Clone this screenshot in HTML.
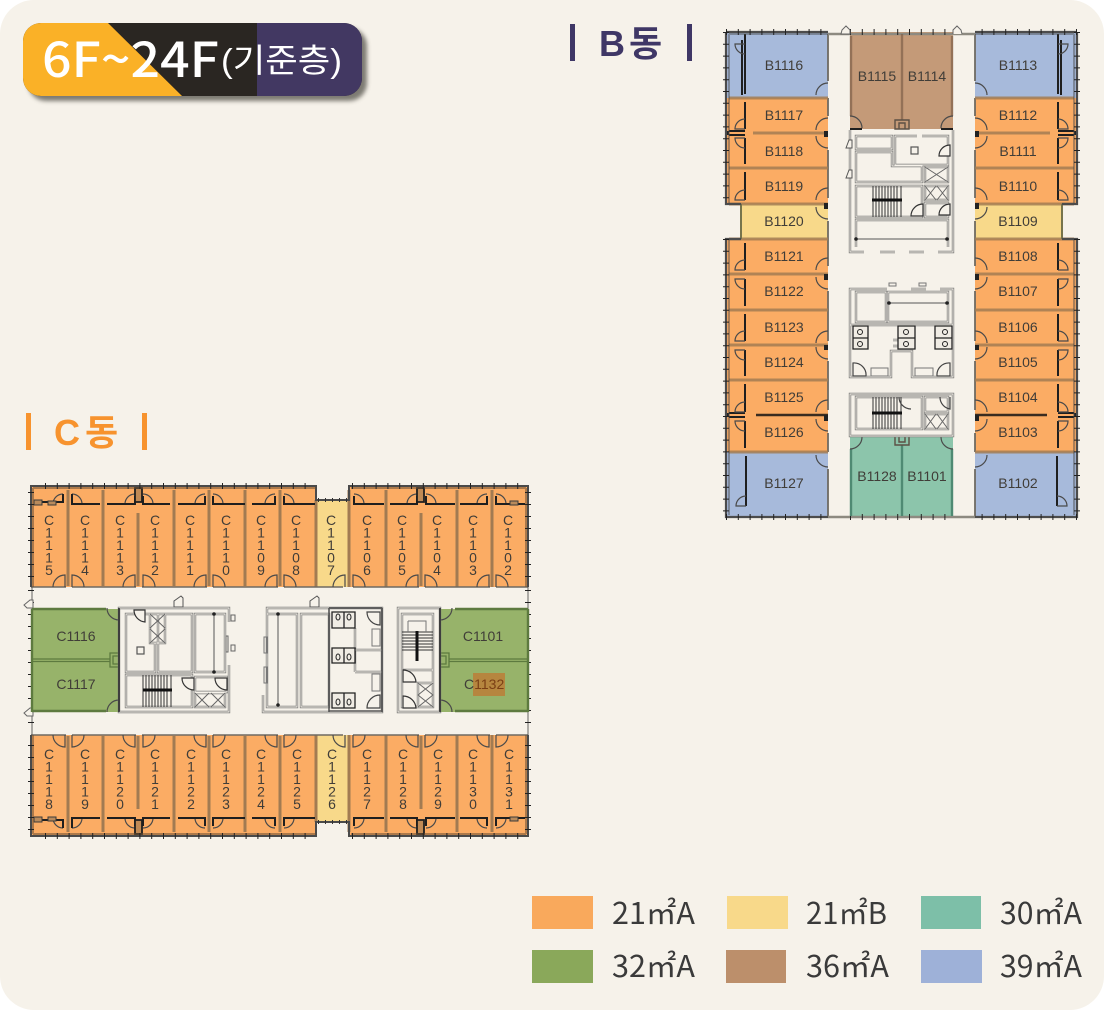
<!DOCTYPE html>
<html lang="ko"><head><meta charset="utf-8"><title>6F~24F</title>
<style>
html,body{margin:0;padding:0;background:#fff;width:1104px;height:1010px;overflow:hidden}
svg{display:block;font-family:"Liberation Sans","Noto Sans CJK KR",sans-serif}
.l{font-size:14px;fill:#403d38;text-anchor:middle}
.lg{font-size:30px;fill:#3a3a3a;font-family:"Noto Sans CJK KR","Liberation Sans",sans-serif}
.or{fill:#fbac64}.ye{fill:#f8d98a}.te{fill:#8cc5ab}.gr{fill:#97b36a}.br{fill:#c49a78}.bl{fill:#a7badb}
.d{fill:none;stroke:#4a4a4a;stroke-width:1.2}
.k{fill:none;stroke:#1f1f1f;stroke-width:2}
.m{fill:none;stroke:#a27b52;stroke-width:3}
.g{fill:none;stroke:#6f6a62;stroke-width:1.8}
.w3{fill:none;stroke:#7a7a78;stroke-width:2.4}
.w1{fill:none;stroke:#f6f2ea;stroke-width:.9}
</style></head><body>
<svg width="1104" height="1010" viewBox="0 0 1104 1010" xmlns="http://www.w3.org/2000/svg">
<defs>
<filter id="sh" x="-5%" y="-20%" width="110%" height="140%"><feGaussianBlur stdDeviation="2"/></filter>
<!-- B wing linework -->
<g id="bw">
<path class="g" d="M828 34V81M828 98V116M828 150V198M828 221V266M828 291V341M828 361V410M828 433V452M828 469V517"/>
<path class="m" d="M729 98H828M753 133H828M729 168H828M729 204H828M729 239H828M729 274H828M729 310H828M729 345H828M729 380H828M729 452H828" stroke-opacity=".85"/>
<path d="M756 415H828" fill="none" stroke="#3a2c20" stroke-width="2.5"/>
<path class="k" d="M745 34V94M742 40V95M745 102V129M745 138V164M745 172V200M745 243V270M745 279V306M745 314V341M745 350V376M745 384V412M745 421V448M746 456V506"/>
<path class="k" d="M729 131H745M729 135H745M729 413H745M729 417H745M728 131V135M728 413V417"/>
<path d="M741 204V239" fill="none" stroke="#77744c" stroke-width="2"/>
<path d="M726 32V204H741M741 239H726V517H828" fill="none" stroke="#4c4c4c" stroke-width="2.2"/>
<path d="M726 32H828" fill="none" stroke="#4c4c4c" stroke-width="2.2"/>
<path d="M729 34H828M729 34V204M729 239V515" fill="none" stroke="#4a4a4a" stroke-width="2" stroke-opacity=".45"/>
<path d="M726 32V204M726 239V517" fill="none" stroke="#222" stroke-width="6" stroke-dasharray="1 10.8"/>
<path d="M726 32H828M726 517H828" fill="none" stroke="#222" stroke-width="6" stroke-dasharray="1 10.8"/>
<path class="d" d="M816 95a12 12 0 0 1 12-12M816 130a12 12 0 0 1 12-12M816 136a12 12 0 0 0 12 12M816 200a12 12 0 0 1 12-12M816 207a12 12 0 0 0 12 12M816 270a12 12 0 0 1 12-12M816 277a12 12 0 0 0 12 12M816 343a12 12 0 0 1 12-12M816 347a12 12 0 0 0 12 12M816 412a12 12 0 0 1 12-12M816 419a12 12 0 0 0 12 12M816 455a12 12 0 0 0 12 12"/>
<path class="d" d="M745 44H735a10 10 0 0 0 10 10M745 129H735a10 10 0 0 1 10-10M745 138H735a10 10 0 0 0 10 10M745 200H735a10 10 0 0 1 10-10M745 270H735a10 10 0 0 1 10-10M745 279H735a10 10 0 0 0 10 10M745 341H735a10 10 0 0 1 10-10M745 350H735a10 10 0 0 0 10 10M745 412H735a10 10 0 0 1 10-10M745 421H735a10 10 0 0 0 10 10M746 506H736a10 10 0 0 1 10-10"/>
<path d="M828 131h-4v6h4zM828 203h-4v6h4zM828 274h-4v6h4zM828 345h-4v5h4zM828 415h-4v6h4z" fill="#222"/>
</g>
<!-- C row linework (top row; mirrored for the bottom) -->
<g id="cr">
<path class="m" d="M68 490V586M103 490V586M174 490V586M209 490V586M245 490V586M280 490V586M316 500V587M349 490V587M386 490V587M457 490V587M492 490V587M138 513V586M421 513V586"/>
<path d="M138 490V500M421 490V500" fill="none" stroke="#a27b52" stroke-width="3"/>
<path d="M31 587H66M72 587H136M142 587H207M213 587H278M284 587H343M353 587H419M425 587H490M496 587H528" fill="none" stroke="#6f6a62" stroke-width="1.6"/>
<path class="d" d="M53 587a12 12 0 0 1 12-12V587M84 587a12 12 0 0 0-12-12V587M123 587a12 12 0 0 1 12-12V587M155 587a12 12 0 0 0-12-12V587M194 587a12 12 0 0 1 12-12V587M225 587a12 12 0 0 0-12-12V587M265 587a12 12 0 0 1 12-12V587M296 587a12 12 0 0 0-12-12V587M333 587a12 12 0 0 1 12-12V587M365 587a12 12 0 0 0-12-12V587M406 587a12 12 0 0 1 12-12V587M437 587a12 12 0 0 0-12-12V587M477 587a12 12 0 0 1 12-12V587M508 587a12 12 0 0 0-12-12V587"/>
<path class="d" d="M53 504a10 10 0 0 1 10-10M82 504a10 10 0 0 0-10-10M125 504a10 10 0 0 1 10-10M153 504a10 10 0 0 0-10-10M195 504a10 10 0 0 1 10-10M223 504a10 10 0 0 0-10-10M265 504a10 10 0 0 1 10-10M294 504a10 10 0 0 0-10-10M364 504a10 10 0 0 0-10-10M407 504a10 10 0 0 1 10-10M436 504a10 10 0 0 0-10-10M477 504a10 10 0 0 1 10-10M506 504a10 10 0 0 0-10-10"/>
<path class="k" d="M34 502H63V494M72 494V504H100M107 504H135V496M143 496V504H170M178 504H205V496M213 496V504H245M252 504H275V496M284 496V504H315M354 496V504H384M390 504H417V496M426 496V504H455M460 504H487V496M496 496V504H525" stroke-width="1.6"/>
<path d="M135 488h7v14h-7zM417 488h7v14h-7z" fill="#c08a55" stroke="#1f1f1f" stroke-width="1.8"/>
<path d="M34 500h8v5h-8zM48 501h8v4h-8zM510 501h8v4h-8z" fill="#b98a5b" stroke="#3a3a3a"/>
<path d="M31 587V486H316V500H349V486H528V587" fill="none" stroke="#4a4a4a" stroke-width="2"/>
<path d="M33 488H316M351 488H526M33 488V587M526 488V587" fill="none" stroke="#6b5135" stroke-opacity=".55" stroke-width="2"/>
<path d="M45 486H316M352 486H528" fill="none" stroke="#222" stroke-width="6" stroke-dasharray="1 10.8"/>
<path d="M31 492V587M528 492V587" fill="none" stroke="#222" stroke-width="6" stroke-dasharray="1 11"/>
<path d="M318 500H348" fill="none" stroke="#333" stroke-width="4" stroke-dasharray="1 6"/>
</g>
<!-- Core walls -->
<path id="c1" d="M850 130V252H864M880 252H895M909 252H924M938 252H953V130M856 136H892V149H856ZM856 152H892V166H922V182H856ZM917 136H895V165H948V136H922M925 167H948V182H925ZM925 186H948V200H925ZM856 186H922V217H856ZM925 203H948V217H925ZM856 247V220H948V247"/>
<path id="c2" d="M850 325V289H887M911 289H926M940 289H953V325H850M856 292H886V322H856ZM888 292H948V322H888ZM850 325V377H891V351H912V377H953V325M893 340H912V346H893"/>
<path id="c3" d="M850 394H953V436H850ZM856 397H922V429H856ZM925 414H948V429H925ZM925 397H948V412H925Z"/>
<path id="c4" d="M229 622V608H119V712H229V665M126 614H150V643H155V672H126ZM150 614H165V643H150ZM158 614H192V672H158ZM195 614H225V672H195ZM126 675H192V707H126ZM195 677H227V692H195ZM195 693H225V707H195Z"/>
<path id="c5" d="M267 622V608H382V712H263V695M267 614H297V707H267ZM301 614H329V707H301ZM355 628V650H382M355 672H382M355 650V672"/>
<path id="c6" d="M398 608H440V712H398ZM402 614H433V670H402ZM402 670V707H433V670M418 683H433V707H418Z"/>
</defs>

<rect x="0" y="0" width="1104" height="1010" rx="34" fill="#f6f2ea"/>

<!-- Header badge -->
<rect x="28" y="28" width="339" height="73" rx="18" fill="#55524c" opacity=".75" filter="url(#sh)"/>
<rect x="23" y="23" width="339" height="73" rx="18" fill="#2a2622"/>
<path d="M41 23H108L182 96H41A18 18 0 0 1 23 78V41A18 18 0 0 1 41 23Z" fill="#fab127"/>
<path d="M257 23H344A18 18 0 0 1 362 41V78A18 18 0 0 1 344 96H257Z" fill="#423862"/>
<text x="42" y="77" font-size="48" font-weight="500" fill="#fff" textLength="177" lengthAdjust="spacingAndGlyphs" style="font-family:'Noto Sans CJK KR','Liberation Sans',sans-serif">6F~24F</text>
<text x="221" y="72" font-size="33" fill="#fff" textLength="121" lengthAdjust="spacingAndGlyphs">(기준층)</text>

<!-- Titles -->
<rect x="570" y="24" width="5" height="37" fill="#3f3766"/><rect x="687" y="24" width="5" height="37" fill="#3f3766"/>
<text y="56" font-size="36" font-weight="700" fill="#3f3766"><tspan x="599">B</tspan><tspan x="629">동</tspan></text>
<rect x="26" y="413" width="5" height="37" fill="#f7932e"/><rect x="142" y="413" width="5" height="37" fill="#f7932e"/>
<text y="445" font-size="36" font-weight="700" fill="#f7932e"><tspan x="54">C</tspan><tspan x="85">동</tspan></text>

<!-- B block fills -->
<rect class="bl" x="726" y="32" width="102" height="66"/><rect class="bl" x="975" y="32" width="102" height="66"/>
<rect class="or" x="726" y="98" width="102" height="106"/><rect class="or" x="975" y="98" width="102" height="106"/>
<rect class="ye" x="741" y="204" width="87" height="35"/><rect class="ye" x="975" y="204" width="87" height="35"/>
<rect class="or" x="726" y="239" width="102" height="213"/><rect class="or" x="975" y="239" width="102" height="213"/>
<rect class="bl" x="726" y="452" width="102" height="65"/><rect class="bl" x="975" y="452" width="102" height="65"/>
<rect class="br" x="850" y="32" width="103" height="97"/>
<rect class="te" x="850" y="436" width="103" height="81"/>
<use href="#bw"/>
<use href="#bw" transform="translate(1803 0) scale(-1 1)"/>
<!-- B centre -->
<path d="M828 34H975M828 517H975" fill="none" stroke="#8d8a80" stroke-width="2.5"/>
<path d="M850 32H953M850 517H953" fill="none" stroke="#222" stroke-width="6" stroke-dasharray="1 10.8"/>
<path d="M851 36V116M952 36V116M902 34V120" fill="none" stroke="#7f6048" stroke-width="2.4" stroke-opacity=".7"/>
<path d="M851 449V516M952 449V516M902 445V516" fill="none" stroke="#4f8a73" stroke-width="2.4"/>
<path d="M895 120h14v9h-14zM899 123h6v6h-6zM895 436h14v9h-14zM899 436h6v6h-6z" fill="none" stroke="#5c5044" stroke-width="1.4"/>
<path class="d" d="M850 116a12 12 0 0 1 12 12M953 116a12 12 0 0 0-12 12M850 449a12 12 0 0 0 12-12M953 449a12 12 0 0 1-12-12"/>
<path d="M841 34l1-4 4-4 4 4v4zM953 34v-4l4-4 4 4 1 4" fill="#f6f2ea" stroke="#666" stroke-width="1"/>
<path class="k" d="M850 129H862M941 129H953M850 436H862M941 436H953"/>

<g class="w3"><use href="#c1"/><use href="#c2"/><use href="#c3"/></g>
<g class="w1"><use href="#c1"/><use href="#c2"/><use href="#c3"/></g>
<!-- B core 1 details -->
<path d="M873 186V217M876 186V217M879 186V217M882 186V217M885 186V217M888 186V217M891 186V217M894 186V217M897 186V217M901 186V217" stroke="#333" fill="none"/>
<path d="M872 200H902" stroke="#111" stroke-width="3"/>
<path d="M925 167L948 182M948 167L925 182M925 186L936 200M936 186L925 200M937 186L948 200M948 186L937 200" stroke="#666" fill="none"/>
<rect x="911" y="147" width="7" height="7" fill="none" stroke="#555" stroke-width="1.2"/>
<path d="M856 239H947" stroke="#555" fill="none"/>
<circle cx="856" cy="239" r="1.8" fill="#222"/><circle cx="947" cy="239" r="1.8" fill="#222"/>
<path d="M950 156h-11a11 11 0 0 1 11-11ZM950 215h-11a11 11 0 0 1 11-11ZM923 216h-12a12 12 0 0 1 12-12Z" fill="#f6f2ea" stroke="#333" stroke-width="1.2"/>
<path d="M846 148l3-8h3v8zM846 178l3-8h3v8z" fill="#f6f2ea" stroke="#555"/>
<!-- B core 2 details -->
<path d="M889 303H947" stroke="#555" fill="none"/>
<circle cx="889" cy="303" r="1.8" fill="#222"/><circle cx="947" cy="303" r="1.8" fill="#222"/>
<path d="M853 326H868V349H853ZM853 338H868M898 326H915V349H898ZM898 338H915M935 326H952V349H935ZM935 338H952" fill="#f0ece4" stroke="#222" stroke-width="1.3"/>
<circle cx="860" cy="332" r="2.5" fill="none" stroke="#222"/><circle cx="860" cy="344" r="2.5" fill="none" stroke="#222"/><circle cx="906" cy="332" r="2.5" fill="none" stroke="#222"/><circle cx="906" cy="344" r="2.5" fill="none" stroke="#222"/><circle cx="945" cy="332" r="2.5" fill="none" stroke="#222"/><circle cx="945" cy="344" r="2.5" fill="none" stroke="#222"/>
<path d="M853 376V363a12 12 0 0 1 13 13ZM950 376V363a12 12 0 0 0-13 13Z" fill="none" stroke="#444" stroke-width="1.2"/>
<path d="M871 368H888V376H871ZM915 368H933V376H915Z" fill="none" stroke="#777"/>
<path d="M889 283h7v3h-7zM919 283h7v3h-7z" fill="none" stroke="#777"/>
<!-- B core 3 details -->
<path d="M873 397V429M876 397V429M879 397V429M882 397V429M885 397V429M888 397V429M891 397V429M894 397V429M897 397V429M901 397V429" stroke="#333" fill="none"/>
<path d="M872 413H902" stroke="#111" stroke-width="3"/>
<path d="M925 414L936 429M936 414L925 429M937 414L948 429M948 414L937 429" stroke="#666" fill="none"/>
<path d="M911 409a12 12 0 0 1-12-12M950 397V409a12 12 0 0 1-10-12" fill="none" stroke="#444" stroke-width="1.2"/>

<!-- B labels -->
<g>
<text class="l" x="784" y="70">B1116</text><text class="l" x="1018" y="70">B1113</text>
<text class="l" x="784" y="120">B1117</text><text class="l" x="1018" y="120">B1112</text>
<text class="l" x="784" y="156">B1118</text><text class="l" x="1018" y="156">B1111</text>
<text class="l" x="784" y="191">B1119</text><text class="l" x="1018" y="191">B1110</text>
<text class="l" x="784" y="226">B1120</text><text class="l" x="1018" y="226">B1109</text>
<text class="l" x="784" y="261">B1121</text><text class="l" x="1018" y="261">B1108</text>
<text class="l" x="784" y="296">B1122</text><text class="l" x="1018" y="296">B1107</text>
<text class="l" x="784" y="332">B1123</text><text class="l" x="1018" y="332">B1106</text>
<text class="l" x="784" y="367">B1124</text><text class="l" x="1018" y="367">B1105</text>
<text class="l" x="784" y="402">B1125</text><text class="l" x="1018" y="402">B1104</text>
<text class="l" x="784" y="437">B1126</text><text class="l" x="1018" y="437">B1103</text>
<text class="l" x="784" y="488">B1127</text><text class="l" x="1018" y="488">B1102</text>
<text class="l" x="877" y="81">B1115</text><text class="l" x="927" y="81">B1114</text>
<text class="l" x="877" y="481">B1128</text><text class="l" x="927" y="481">B1101</text>
</g>

<!-- C block fills -->
<path class="or" d="M31 486H316V500H349V486H528V587H31Z"/>
<rect class="ye" x="316" y="500" width="33" height="87"/>
<path class="or" d="M31 735H528V836H349V821H316V836H31Z"/>
<rect class="ye" x="316" y="735" width="33" height="86"/>
<use href="#cr"/>
<use href="#cr" transform="translate(0 1322) scale(1 -1)"/>
<!-- C corridor side walls -->
<path d="M32 587V735M528 587V735" fill="none" stroke="#555" stroke-width="1.5" stroke-opacity=".6"/>
<path d="M31 590V733M528 590V733" fill="none" stroke="#222" stroke-width="6" stroke-dasharray="1 11"/>
<path d="M24 605l6-5h3v8h-6zM24 713l6-5h3v8h-6z" fill="#f6f2ea" stroke="#666"/>
<!-- C green -->
<rect class="gr" x="32" y="609" width="87" height="103"/>
<rect class="gr" x="440" y="609" width="88" height="103"/>
<path d="M32 659H110M32 661.500H110M449 659H528M449 661.500H528" stroke="#5d7a3f" fill="none" stroke-width="1.2"/>
<path d="M32 609H106M32 711H106M455 609H528M455 711H528M32 609V712M528 609V712" stroke="#5d7a3f" fill="none" stroke-width="2.4"/>
<path d="M110 653H119V667H110ZM113 656H119V664H113ZM440 653H449V667H440ZM440 656H446V664H440Z" fill="none" stroke="#5d7a3f" stroke-width="1.3"/>
<path class="d" d="M107 608a12 12 0 0 0 12 12M107 712a12 12 0 0 1 12-12M452 608a12 12 0 0 1-12 12M452 712a12 12 0 0 0-12-12"/>
<g class="w3"><use href="#c4"/><use href="#c5"/><use href="#c6"/></g>
<g class="w1"><use href="#c4"/><use href="#c5"/><use href="#c6"/></g>
<path d="M119 608V712M440 608V712" fill="none" stroke="#2a2a2a" stroke-width="1.5"/>
<path d="M329 608V712M382 608V712M329 711H382M329 608H382" fill="none" stroke="#555" stroke-width="1.6"/>
<!-- C core 1 details -->
<path d="M143 675V707M146 675V707M149 675V707M152 675V707M155 675V707M158 675V707M161 675V707M164 675V707M167 675V707M171 675V707" stroke="#333" fill="none"/>
<path d="M143 690H172" stroke="#111" stroke-width="3"/>
<path d="M150 614L165 628M165 614L150 628M150 629L165 643M165 629L150 643M195 693L209 707M209 693L195 707M211 693L225 707M225 693L211 707" stroke="#666" fill="none"/>
<rect x="137" y="647" width="7" height="7" fill="none" stroke="#555" stroke-width="1.2"/>
<path d="M214 614V672" stroke="#555" fill="none"/><circle cx="214" cy="614" r="1.8" fill="#222"/><circle cx="214" cy="672" r="1.8" fill="#222"/>
<path d="M134 610h11v12a12 12 0 0 1-11-12ZM194 690V678h-12a12 12 0 0 0 12 12ZM227 690V678h-12a12 12 0 0 0 12 12Z" fill="#f6f2ea" stroke="#333" stroke-width="1.2"/>
<path d="M174 607v-6l7-5 2 2v9z" fill="#f6f2ea" stroke="#555"/>
<path d="M231 615h4v6h-4zM231 645h4v6h-4zM226 636h2v16h-2z" fill="none" stroke="#666"/>
<!-- C core 2 details -->
<path d="M278 614V707" stroke="#555" fill="none"/><circle cx="278" cy="614" r="1.8" fill="#222"/><circle cx="278" cy="705" r="1.8" fill="#222"/>
<path d="M264 637h3v16h-3zM264 667h3v16h-3z" fill="none" stroke="#777"/>
<path d="M310 607v-6l7-5 2 2v9z" fill="#f6f2ea" stroke="#555"/>
<path d="M332 612H355V628H332ZM344 612V628M332 648H355V663H332ZM344 648V663M332 693H355V708H332ZM344 693V708" fill="#f0ece4" stroke="#222" stroke-width="1.3"/>
<ellipse cx="338" cy="617" rx="2" ry="3" fill="none" stroke="#222"/><ellipse cx="349" cy="617" rx="2" ry="3" fill="none" stroke="#222"/><ellipse cx="338" cy="657" rx="2" ry="3" fill="none" stroke="#222"/><ellipse cx="349" cy="657" rx="2" ry="3" fill="none" stroke="#222"/><ellipse cx="338" cy="702" rx="2" ry="3" fill="none" stroke="#222"/><ellipse cx="349" cy="702" rx="2" ry="3" fill="none" stroke="#222"/>
<path d="M380 612v13a13 13 0 0 1-13-13ZM380 708v-13a13 13 0 0 0-13 13Z" fill="none" stroke="#444" stroke-width="1.2"/>
<path d="M372 629H380V646H372ZM372 674H380V691H372Z" fill="none" stroke="#777"/>
<!-- C core 3 details -->
<path d="M402 632H433M402 635H433M402 638H433M402 641H433M402 644H433M402 647H433M402 650H433" stroke="#333" fill="none"/>
<path d="M417 631V661" stroke="#111" stroke-width="3"/>
<path d="M408 621H426V632M408 621V632" fill="none" stroke="#777"/>
<path d="M418 683L433 695M433 683L418 695M418 695L433 707M433 695L418 707" stroke="#666" fill="none"/>
<path d="M403 670V682h13a13 13 0 0 0-13-12ZM403 696V708h13a13 13 0 0 0-13-12Z" fill="#f6f2ea" stroke="#333" stroke-width="1.2"/>

<!-- C labels -->
<g>
<text class="l" y="525"><tspan x="49" dy="0">C</tspan><tspan x="49" dy="12.500">1</tspan><tspan x="49" dy="12.500">1</tspan><tspan x="49" dy="12.500">1</tspan><tspan x="49" dy="12.500">5</tspan></text>
<text class="l" y="525"><tspan x="85" dy="0">C</tspan><tspan x="85" dy="12.500">1</tspan><tspan x="85" dy="12.500">1</tspan><tspan x="85" dy="12.500">1</tspan><tspan x="85" dy="12.500">4</tspan></text>
<text class="l" y="525"><tspan x="120" dy="0">C</tspan><tspan x="120" dy="12.500">1</tspan><tspan x="120" dy="12.500">1</tspan><tspan x="120" dy="12.500">1</tspan><tspan x="120" dy="12.500">3</tspan></text>
<text class="l" y="525"><tspan x="155" dy="0">C</tspan><tspan x="155" dy="12.500">1</tspan><tspan x="155" dy="12.500">1</tspan><tspan x="155" dy="12.500">1</tspan><tspan x="155" dy="12.500">2</tspan></text>
<text class="l" y="525"><tspan x="190" dy="0">C</tspan><tspan x="190" dy="12.500">1</tspan><tspan x="190" dy="12.500">1</tspan><tspan x="190" dy="12.500">1</tspan><tspan x="190" dy="12.500">1</tspan></text>
<text class="l" y="525"><tspan x="226" dy="0">C</tspan><tspan x="226" dy="12.500">1</tspan><tspan x="226" dy="12.500">1</tspan><tspan x="226" dy="12.500">1</tspan><tspan x="226" dy="12.500">0</tspan></text>
<text class="l" y="525"><tspan x="261" dy="0">C</tspan><tspan x="261" dy="12.500">1</tspan><tspan x="261" dy="12.500">1</tspan><tspan x="261" dy="12.500">0</tspan><tspan x="261" dy="12.500">9</tspan></text>
<text class="l" y="525"><tspan x="296" dy="0">C</tspan><tspan x="296" dy="12.500">1</tspan><tspan x="296" dy="12.500">1</tspan><tspan x="296" dy="12.500">0</tspan><tspan x="296" dy="12.500">8</tspan></text>
<text class="l" y="525"><tspan x="331" dy="0">C</tspan><tspan x="331" dy="12.500">1</tspan><tspan x="331" dy="12.500">1</tspan><tspan x="331" dy="12.500">0</tspan><tspan x="331" dy="12.500">7</tspan></text>
<text class="l" y="525"><tspan x="367" dy="0">C</tspan><tspan x="367" dy="12.500">1</tspan><tspan x="367" dy="12.500">1</tspan><tspan x="367" dy="12.500">0</tspan><tspan x="367" dy="12.500">6</tspan></text>
<text class="l" y="525"><tspan x="402" dy="0">C</tspan><tspan x="402" dy="12.500">1</tspan><tspan x="402" dy="12.500">1</tspan><tspan x="402" dy="12.500">0</tspan><tspan x="402" dy="12.500">5</tspan></text>
<text class="l" y="525"><tspan x="437" dy="0">C</tspan><tspan x="437" dy="12.500">1</tspan><tspan x="437" dy="12.500">1</tspan><tspan x="437" dy="12.500">0</tspan><tspan x="437" dy="12.500">4</tspan></text>
<text class="l" y="525"><tspan x="473" dy="0">C</tspan><tspan x="473" dy="12.500">1</tspan><tspan x="473" dy="12.500">1</tspan><tspan x="473" dy="12.500">0</tspan><tspan x="473" dy="12.500">3</tspan></text>
<text class="l" y="525"><tspan x="508" dy="0">C</tspan><tspan x="508" dy="12.500">1</tspan><tspan x="508" dy="12.500">1</tspan><tspan x="508" dy="12.500">0</tspan><tspan x="508" dy="12.500">2</tspan></text>

<text class="l" y="759"><tspan x="49" dy="0">C</tspan><tspan x="49" dy="12.500">1</tspan><tspan x="49" dy="12.500">1</tspan><tspan x="49" dy="12.500">1</tspan><tspan x="49" dy="12.500">8</tspan></text>
<text class="l" y="759"><tspan x="85" dy="0">C</tspan><tspan x="85" dy="12.500">1</tspan><tspan x="85" dy="12.500">1</tspan><tspan x="85" dy="12.500">1</tspan><tspan x="85" dy="12.500">9</tspan></text>
<text class="l" y="759"><tspan x="120" dy="0">C</tspan><tspan x="120" dy="12.500">1</tspan><tspan x="120" dy="12.500">1</tspan><tspan x="120" dy="12.500">2</tspan><tspan x="120" dy="12.500">0</tspan></text>
<text class="l" y="759"><tspan x="155" dy="0">C</tspan><tspan x="155" dy="12.500">1</tspan><tspan x="155" dy="12.500">1</tspan><tspan x="155" dy="12.500">2</tspan><tspan x="155" dy="12.500">1</tspan></text>
<text class="l" y="759"><tspan x="191" dy="0">C</tspan><tspan x="191" dy="12.500">1</tspan><tspan x="191" dy="12.500">1</tspan><tspan x="191" dy="12.500">2</tspan><tspan x="191" dy="12.500">2</tspan></text>
<text class="l" y="759"><tspan x="226" dy="0">C</tspan><tspan x="226" dy="12.500">1</tspan><tspan x="226" dy="12.500">1</tspan><tspan x="226" dy="12.500">2</tspan><tspan x="226" dy="12.500">3</tspan></text>
<text class="l" y="759"><tspan x="261" dy="0">C</tspan><tspan x="261" dy="12.500">1</tspan><tspan x="261" dy="12.500">1</tspan><tspan x="261" dy="12.500">2</tspan><tspan x="261" dy="12.500">4</tspan></text>
<text class="l" y="759"><tspan x="297" dy="0">C</tspan><tspan x="297" dy="12.500">1</tspan><tspan x="297" dy="12.500">1</tspan><tspan x="297" dy="12.500">2</tspan><tspan x="297" dy="12.500">5</tspan></text>
<text class="l" y="759"><tspan x="332" dy="0">C</tspan><tspan x="332" dy="12.500">1</tspan><tspan x="332" dy="12.500">1</tspan><tspan x="332" dy="12.500">2</tspan><tspan x="332" dy="12.500">6</tspan></text>
<text class="l" y="759"><tspan x="367" dy="0">C</tspan><tspan x="367" dy="12.500">1</tspan><tspan x="367" dy="12.500">1</tspan><tspan x="367" dy="12.500">2</tspan><tspan x="367" dy="12.500">7</tspan></text>
<text class="l" y="759"><tspan x="403" dy="0">C</tspan><tspan x="403" dy="12.500">1</tspan><tspan x="403" dy="12.500">1</tspan><tspan x="403" dy="12.500">2</tspan><tspan x="403" dy="12.500">8</tspan></text>
<text class="l" y="759"><tspan x="438" dy="0">C</tspan><tspan x="438" dy="12.500">1</tspan><tspan x="438" dy="12.500">1</tspan><tspan x="438" dy="12.500">2</tspan><tspan x="438" dy="12.500">9</tspan></text>
<text class="l" y="759"><tspan x="473" dy="0">C</tspan><tspan x="473" dy="12.500">1</tspan><tspan x="473" dy="12.500">1</tspan><tspan x="473" dy="12.500">3</tspan><tspan x="473" dy="12.500">0</tspan></text>
<text class="l" y="759"><tspan x="509" dy="0">C</tspan><tspan x="509" dy="12.500">1</tspan><tspan x="509" dy="12.500">1</tspan><tspan x="509" dy="12.500">3</tspan><tspan x="509" dy="12.500">1</tspan></text>

<text class="l" x="76" y="641">C1116</text>
<text class="l" x="76" y="689">C1117</text>
<text class="l" x="483" y="641">C1101</text>
<rect x="473" y="673" width="32" height="23" fill="#b6863f"/>
<text x="464" y="689" font-size="14" fill="#403d38">C<tspan fill="#7a3f15">1132</tspan></text>
</g>

<!-- Legend -->
<rect x="532" y="896" width="61" height="33" fill="#f9a95c"/>
<rect x="727" y="896" width="61" height="33" fill="#f8d98a"/>
<rect x="921" y="896" width="60" height="33" fill="#7dbfa8"/>
<rect x="532" y="950" width="61" height="33" fill="#8aa85a"/>
<rect x="726" y="950" width="60" height="33" fill="#bc8f6b"/>
<rect x="921" y="950" width="61" height="33" fill="#9eb1d8"/>
<text class="lg" x="612" y="924" textLength="83" lengthAdjust="spacingAndGlyphs">21㎡A</text>
<text class="lg" x="806" y="924" textLength="81" lengthAdjust="spacingAndGlyphs">21㎡B</text>
<text class="lg" x="1000" y="924" textLength="82" lengthAdjust="spacingAndGlyphs">30㎡A</text>
<text class="lg" x="612" y="977" textLength="83" lengthAdjust="spacingAndGlyphs">32㎡A</text>
<text class="lg" x="806" y="977" textLength="83" lengthAdjust="spacingAndGlyphs">36㎡A</text>
<text class="lg" x="1000" y="977" textLength="82" lengthAdjust="spacingAndGlyphs">39㎡A</text>
</svg>
</body></html>
